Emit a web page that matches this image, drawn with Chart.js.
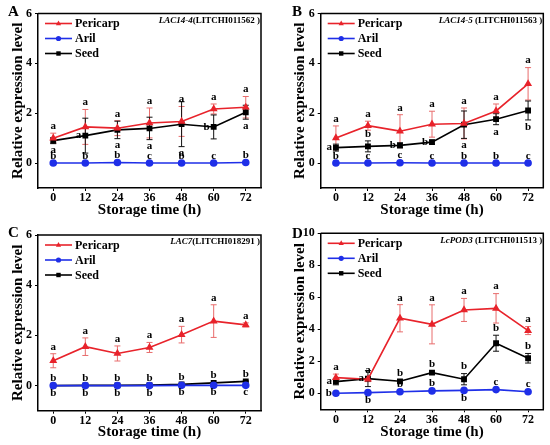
<!DOCTYPE html>
<html><head><meta charset="utf-8">
<script src="https://cdn.jsdelivr.net/npm/chart.js@4.4.0/dist/chart.umd.min.js"></script>
<style>
html,body{margin:0;padding:0;background:#fff;}
#wrap{position:relative;width:550px;height:445px;overflow:hidden;}
canvas{position:absolute;display:block;}
</style></head><body>
<div id="wrap">
<canvas id="cA" width="275" height="220" style="left:0;top:0"></canvas>
<canvas id="cB" width="275" height="220" style="left:275px;top:0"></canvas>
<canvas id="cC" width="275" height="225" style="left:0;top:220px"></canvas>
<canvas id="cD" width="275" height="225" style="left:275px;top:220px"></canvas>
</div>
<script>
// ---- shared ----
const storageTimes = [0, 12, 24, 36, 48, 60, 72];
const seriesNames = ['Pericarp', 'Aril', 'Seed'];
const yTicks6 = [0, 2, 4, 6];
const yTicks10 = [0, 2, 4, 6, 8, 10];

// ---- Panel A : LAC14-4 ----
const A_pericarp = [1.00, 1.45, 1.40, 1.61, 1.67, 2.17, 2.24];
const A_pericarpErr = [0.20, 0.70, 0.30, 0.60, 0.60, 0.20, 0.43];
const A_aril = [0.00, 0.00, 0.02, 0.00, 0.00, 0.00, 0.02];
const A_arilErr = [0.01, 0.01, 0.01, 0.01, 0.01, 0.01, 0.01];
const A_seed = [0.90, 1.10, 1.33, 1.39, 1.56, 1.45, 2.04];
const A_seedErr = [0.12, 0.70, 0.35, 0.45, 0.90, 0.48, 0.28];
const A_pericarpLetters = ['a', 'a', 'a', 'a', 'a', 'a', 'a'];
const A_arilLetters = ['b', 'b', 'b', 'c', 'b', 'c', 'b'];
const A_arilSide = ['above', 'above', 'above', 'above', 'above', 'above', 'above'];
const A_seedLetters = ['a', 'a', 'a', 'a', 'a', 'b', 'a'];
const A_seedSide = ['below', 'left', 'below', 'below', 'below', 'left', 'below'];

// ---- Panel B : LAC14-5 ----
const B_pericarp = [1.01, 1.50, 1.28, 1.56, 1.59, 2.09, 3.18];
const B_pericarpErr = [0.48, 0.18, 0.66, 0.52, 0.62, 0.28, 0.65];
const B_aril = [0.00, 0.00, 0.01, 0.00, 0.00, 0.00, 0.00];
const B_arilErr = [0.01, 0.01, 0.01, 0.01, 0.01, 0.01, 0.01];
const B_seed = [0.62, 0.67, 0.71, 0.84, 1.54, 1.76, 2.11];
const B_seedErr = [0.14, 0.22, 0.10, 0.08, 0.55, 0.22, 0.38];
const B_pericarpLetters = ['a', 'a', 'a', 'a', 'a', 'a', 'a'];
const B_arilLetters = ['b', 'c', 'c', 'c', 'b', 'b', 'c'];
const B_arilSide = ['above', 'above', 'above', 'above', 'above', 'above', 'above'];
const B_seedLetters = ['a', 'b', 'b', 'b', 'a', 'a', 'b'];
const B_seedSide = ['left', 'above', 'left', 'left', 'below', 'below', 'below'];

// ---- Panel C : LAC7 ----
const C_pericarp = [0.99, 1.55, 1.28, 1.52, 2.03, 2.57, 2.42];
const C_pericarpErr = [0.28, 0.35, 0.30, 0.20, 0.33, 0.65, 0.08];
const C_aril = [0.00, 0.00, 0.00, 0.00, 0.01, 0.01, 0.01];
const C_arilErr = [0.01, 0.01, 0.01, 0.01, 0.01, 0.01, 0.01];
const C_seed = [0.00, 0.01, 0.01, 0.02, 0.05, 0.11, 0.17];
const C_seedErr = [0.01, 0.01, 0.01, 0.01, 0.02, 0.02, 0.02];
const C_pericarpLetters = ['a', 'a', 'a', 'a', 'a', 'a', 'a'];
const C_arilLetters = ['b', 'b', 'b', 'b', 'b', 'b', 'c'];
const C_arilSide = ['below', 'below', 'below', 'below', 'below', 'below', 'below'];
const C_seedLetters = ['b', 'b', 'b', 'b', 'b', 'b', 'b'];
const C_seedSide = ['above', 'above', 'above', 'above', 'above', 'above', 'above'];

// ---- Panel D : LcPOD3 ----
const D_pericarp = [0.98, 0.88, 4.69, 4.31, 5.21, 5.31, 3.92];
const D_pericarpErr = [0.22, 0.15, 0.85, 1.22, 0.72, 0.92, 0.25];
const D_aril = [0.00, 0.04, 0.10, 0.15, 0.18, 0.23, 0.10];
const D_arilErr = [0.03, 0.03, 0.03, 0.03, 0.03, 0.03, 0.03];
const D_seed = [0.73, 0.92, 0.75, 1.29, 0.88, 3.13, 2.19];
const D_seedErr = [0.20, 0.50, 0.10, 0.10, 0.35, 0.50, 0.30];
const D_pericarpLetters = ['a', 'a', 'a', 'a', 'a', 'a', 'a'];
const D_arilLetters = ['b', 'b', 'b', 'b', 'b', 'c', 'c'];
const D_arilSide = ['left', 'below', 'above', 'above', 'below', 'above', 'above'];
const D_seedLetters = ['a', 'a', 'b', 'b', 'b', 'b', 'b'];
const D_seedSide = ['left', 'left', 'above', 'above', 'above', 'above', 'above'];

const allAbove = ['above', 'above', 'above', 'above', 'above', 'above', 'above'];

const SERIF = '"Liberation Serif", "Times New Roman", serif';
const COLORS = { Pericarp: '#e8232b', Aril: '#1f2fe8', Seed: '#000000' };
const ERRCOLORS = { Pericarp: '#e86c6c', Aril: '#3a4ae8', Seed: '#111111' };
const STYLES = { Pericarp: 'triangle', Aril: 'circle', Seed: 'rect' };

const panels = [
  { id: 'cA', letter: 'A', geneIt: 'LAC14-4', geneTx: '(LITCHI011562 )', yMax: 6, ticks: yTicks6,
    values: [A_pericarp, A_aril, A_seed], errs: [A_pericarpErr, A_arilErr, A_seedErr],
    letters: [A_pericarpLetters, A_arilLetters, A_seedLetters], sides: [allAbove, A_arilSide, A_seedSide],
    yW: 38, padR: 14, padT: 13.5, xH: 32, yTitlePad: 9.5, xTitlePad: 1, letterPos: [8, 16] },
  { id: 'cB', letter: 'B', geneIt: 'LAC14-5', geneTx: ' (LITCHI011563 )', yMax: 6, ticks: yTicks6,
    values: [B_pericarp, B_aril, B_seed], errs: [B_pericarpErr, B_arilErr, B_seedErr],
    letters: [B_pericarpLetters, B_arilLetters, B_seedLetters], sides: [allAbove, B_arilSide, B_seedSide],
    yW: 45.7, padR: 6.7, padT: 13.5, xH: 32, yTitlePad: 16, xTitlePad: 1, letterPos: [17, 16] },
  { id: 'cC', letter: 'C', geneIt: 'LAC7', geneTx: '(LITCHI018291 )', yMax: 6, ticks: yTicks6,
    values: [C_pericarp, C_aril, C_seed], errs: [C_pericarpErr, C_arilErr, C_seedErr],
    letters: [C_pericarpLetters, C_arilLetters, C_seedLetters], sides: [allAbove, C_arilSide, C_seedSide],
    yW: 38, padR: 14, padT: 15, xH: 34.3, yTitlePad: 9.5, xTitlePad: 4.3, letterPos: [8, 17] },
  { id: 'cD', letter: 'D', geneIt: 'LcPOD3', geneTx: ' (LITCHI011513 )', yMax: 10, ticks: yTicks10,
    values: [D_pericarp, D_aril, D_seed], errs: [D_pericarpErr, D_arilErr, D_seedErr],
    letters: [D_pericarpLetters, D_arilLetters, D_seedLetters], sides: [allAbove, D_arilSide, D_seedSide],
    yW: 45.7, padR: 6.7, padT: 13.3, xH: 35.7, yTitlePad: 16, xTitlePad: 4.3, letterPos: [17, 18] }
];

Chart.defaults.font.family = SERIF;
Chart.defaults.color = '#000';

function drawMarker(ctx, style, x, y, r, color) {
  ctx.save();
  ctx.fillStyle = color; ctx.strokeStyle = color;
  ctx.beginPath();
  if (style === 'triangle') {
    ctx.moveTo(x, y - r * 1.15); ctx.lineTo(x + r, y + r * 0.7); ctx.lineTo(x - r, y + r * 0.7); ctx.closePath();
  } else if (style === 'rect') {
    ctx.rect(x - r * 0.85, y - r * 0.85, r * 1.7, r * 1.7);
  } else {
    ctx.arc(x, y, r, 0, Math.PI * 2);
  }
  ctx.fill();
  ctx.restore();
}

function makePanel(p) {
  const datasets = seriesNames.map((name, i) => ({
    label: name,
    data: storageTimes.map((t, j) => ({ x: t, y: p.values[i][j] })),
    borderColor: COLORS[name],
    backgroundColor: COLORS[name],
    pointStyle: STYLES[name],
    pointRadius: 3,
    pointHoverRadius: 3,
    borderWidth: 1.6,
    tension: 0
  }));

  const extras = {
    id: 'extras' + p.id,
    beforeDatasetsDraw(chart) {
      const ctx = chart.ctx, xs = chart.scales.x, ys = chart.scales.y;
      ctx.save();
      ctx.lineWidth = 1;
      seriesNames.forEach((name, i) => {
        ctx.strokeStyle = ERRCOLORS[name];
        storageTimes.forEach((t, j) => {
          const v = p.values[i][j], e = p.errs[i][j];
          const x = xs.getPixelForValue(t);
          const y1 = ys.getPixelForValue(v + e), y2 = ys.getPixelForValue(v - e);
          ctx.beginPath();
          ctx.moveTo(x, y1); ctx.lineTo(x, y2);
          ctx.moveTo(x - 3, y1); ctx.lineTo(x + 3, y1);
          ctx.moveTo(x - 3, y2); ctx.lineTo(x + 3, y2);
          ctx.stroke();
        });
      });
      ctx.restore();
    },
    afterDraw(chart) {
      const ctx = chart.ctx, xs = chart.scales.x, ys = chart.scales.y, a = chart.chartArea;
      ctx.save();
      // top and right frame
      ctx.strokeStyle = '#000'; ctx.lineWidth = 1.5;
      ctx.beginPath();
      ctx.moveTo(a.left, a.top); ctx.lineTo(a.right, a.top); ctx.lineTo(a.right, a.bottom);
      ctx.stroke();
      // significance letters
      ctx.fillStyle = '#000';
      ctx.font = 'bold 11px ' + SERIF;
      seriesNames.forEach((name, i) => {
        storageTimes.forEach((t, j) => {
          const txt = p.letters[i][j], side = p.sides[i][j];
          const v = p.values[i][j], e = p.errs[i][j];
          const x = xs.getPixelForValue(t);
          ctx.textBaseline = 'middle';
          if (side === 'left') {
            ctx.textAlign = 'right';
            ctx.fillText(txt, x - 4, ys.getPixelForValue(v));
          } else if (side === 'below') {
            ctx.textAlign = 'center';
            ctx.fillText(txt, x, ys.getPixelForValue(v - e) + 7);
          } else {
            ctx.textAlign = 'center';
            ctx.fillText(txt, x, ys.getPixelForValue(v + e) - 7);
          }
        });
      });
      // legend
      ctx.font = 'bold 12px ' + SERIF;
      ctx.textAlign = 'left'; ctx.textBaseline = 'middle';
      seriesNames.forEach((name, i) => {
        const y = a.top + 10 + i * 15;
        const x0 = a.left + 7, x1 = a.left + 34;
        ctx.strokeStyle = COLORS[name]; ctx.lineWidth = 1.6;
        ctx.beginPath(); ctx.moveTo(x0, y); ctx.lineTo(x1, y); ctx.stroke();
        drawMarker(ctx, STYLES[name], (x0 + x1) / 2, y, 2.6, COLORS[name]);
        ctx.fillStyle = '#000';
        ctx.fillText(name, x1 + 3, y + 0.5);
      });
      // gene label
      ctx.textBaseline = 'middle'; ctx.textAlign = 'right';
      ctx.font = 'bold 9px ' + SERIF;
      const gy = a.top + 7, gx = a.right - 1;
      ctx.fillText(p.geneTx, gx, gy);
      const w = ctx.measureText(p.geneTx).width;
      ctx.font = 'italic bold 9px ' + SERIF;
      ctx.fillText(p.geneIt, gx - w, gy);
      // panel letter
      ctx.font = 'bold 15px ' + SERIF;
      ctx.textAlign = 'left'; ctx.textBaseline = 'alphabetic';
      ctx.fillText(p.letter, p.letterPos[0], p.letterPos[1]);
      ctx.restore();
    }
  };

  new Chart(document.getElementById(p.id), {
    type: 'line',
    data: { datasets },
    options: {
      responsive: false,
      animation: false,
      parsing: true,
      layout: { padding: { top: p.padT, right: p.padR, left: 0, bottom: 0 } },
      plugins: { legend: { display: false }, tooltip: { enabled: false } },
      scales: {
        x: {
          type: 'linear', min: -5.7, max: 77.7,
          afterBuildTicks(ax) { ax.ticks = storageTimes.map(v => ({ value: v })); },
          afterFit(ax) { ax.height = p.xH; },
          ticks: { font: { size: 12, weight: 'bold' }, color: '#000', padding: 0, maxRotation: 0, autoSkip: false,
                   callback: v => String(v) },
          grid: { display: true, drawOnChartArea: false, drawTicks: true, tickLength: 3, color: '#000', lineWidth: 1 },
          border: { display: true, color: '#000', width: 1.5 },
          title: { display: true, text: 'Storage time (h)', font: { size: 15, weight: 'bold' }, color: '#000',
                   padding: { top: 0, bottom: p.xTitlePad } }
        },
        y: {
          type: 'linear', min: -1, max: p.yMax,
          afterBuildTicks(ax) { ax.ticks = p.ticks.map(v => ({ value: v })); },
          afterFit(ax) { ax.width = p.yW; },
          ticks: { font: { size: 12, weight: 'bold' }, color: '#000', padding: 3, callback: v => String(v) },
          grid: { display: true, drawOnChartArea: false, drawTicks: true, tickLength: 3, color: '#000', lineWidth: 1 },
          border: { display: true, color: '#000', width: 1.5 },
          title: { display: true, text: 'Relative expression level', font: { size: 15, weight: 'bold' }, color: '#000',
                   padding: { top: p.yTitlePad, bottom: 0 } }
        }
      }
    },
    plugins: [extras]
  });
}

panels.forEach(makePanel);
</script>
</body></html>
